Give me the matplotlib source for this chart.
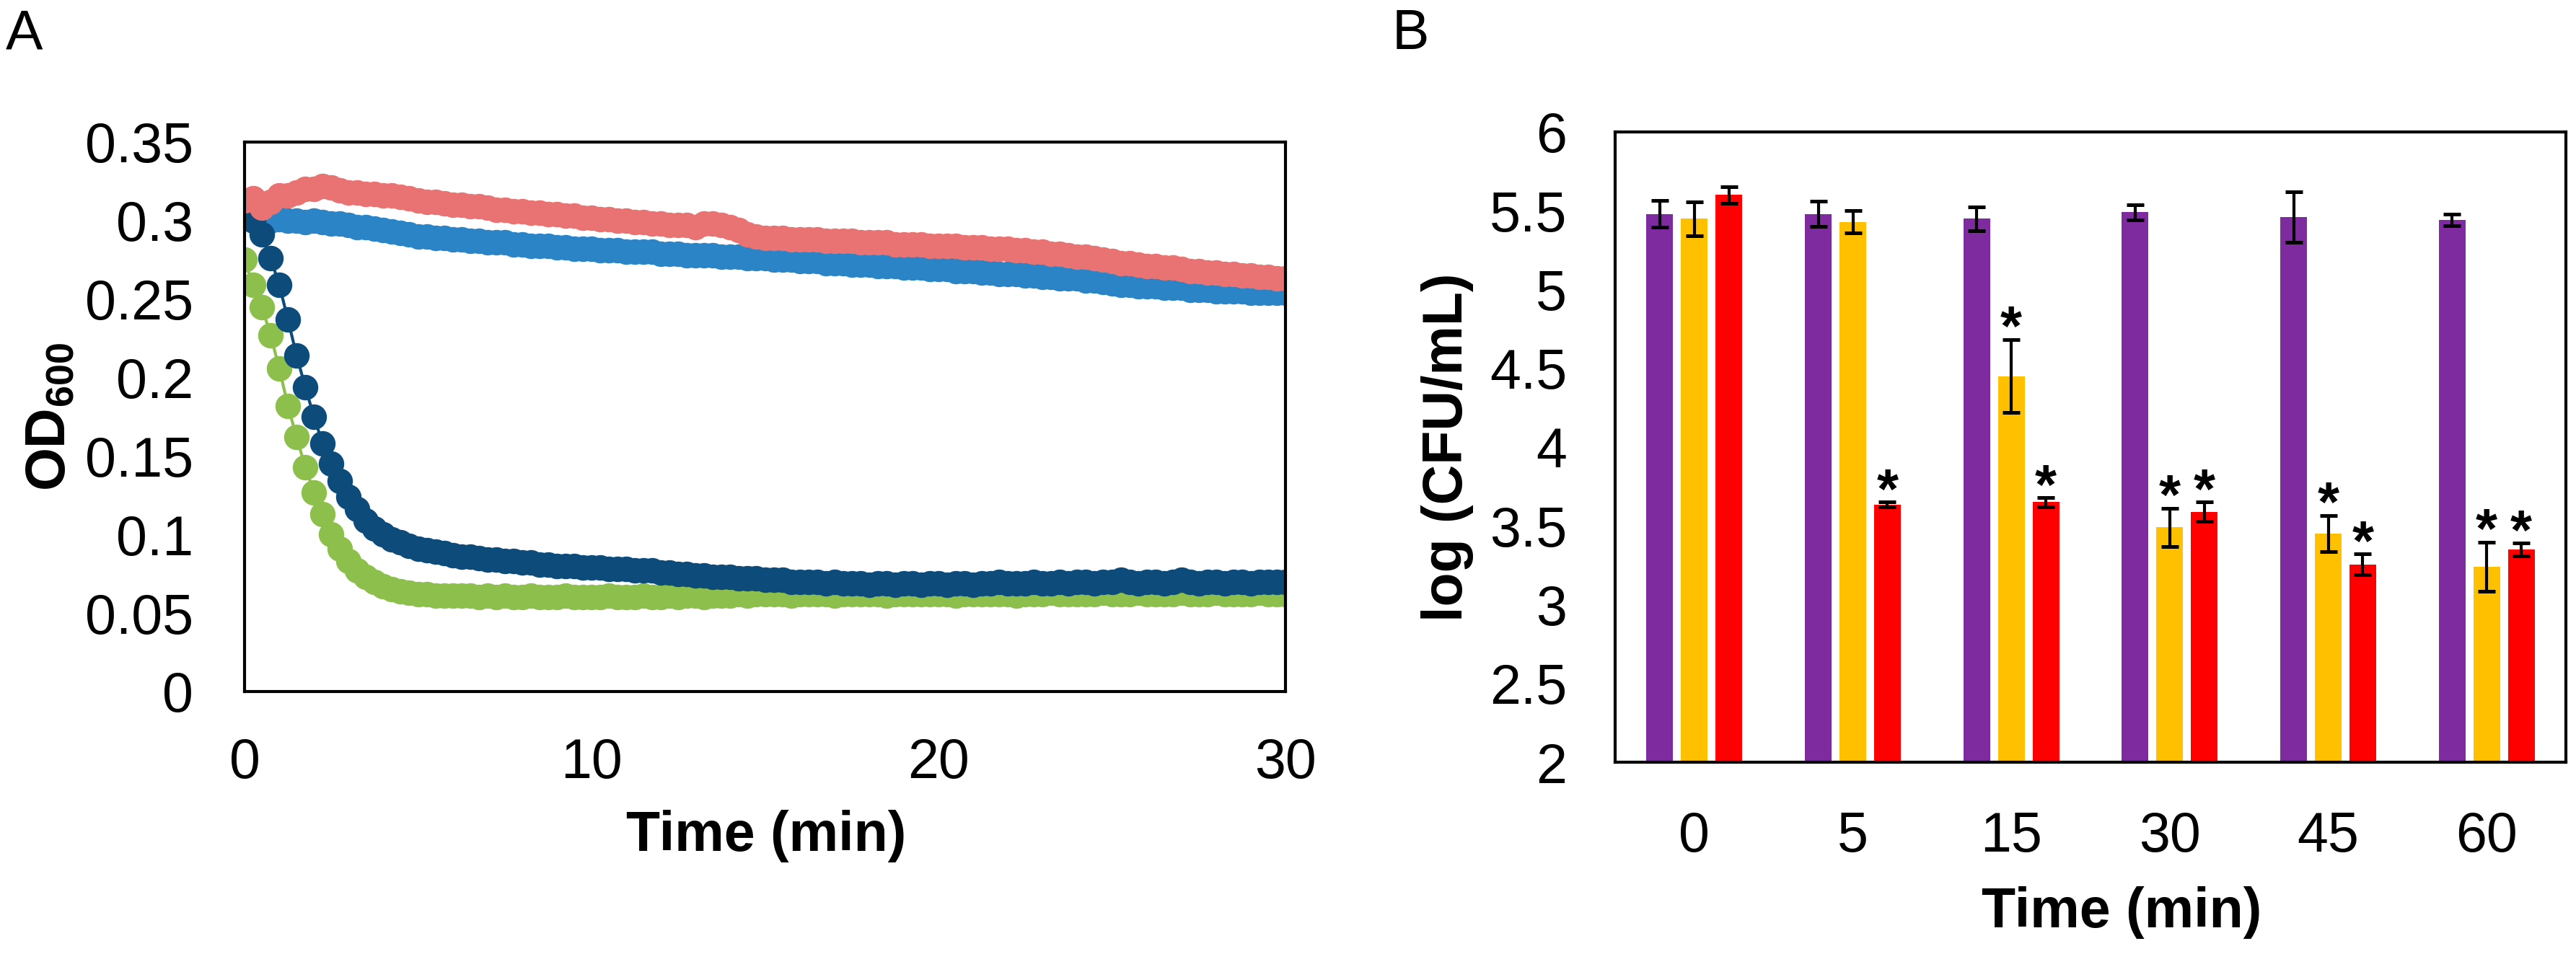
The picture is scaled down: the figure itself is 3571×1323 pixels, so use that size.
import numpy as np
import matplotlib
matplotlib.use("Agg")
import matplotlib.pyplot as plt

plt.rcParams["font.family"] = ["Liberation Sans", "DejaVu Sans"]
plt.rcParams["mathtext.fontset"] = "custom"
plt.rcParams["mathtext.rm"] = "Liberation Sans"
plt.rcParams["mathtext.bf"] = "Liberation Sans:bold"

# ---------- panel A: OD600 over time (one reading every 15 s) ----------
time_min = np.arange(0, 30.001, 0.25)

od_pink = [
    0.313, 0.314, 0.308, 0.312, 0.316, 0.316, 0.318, 0.320, 0.320, 0.322,
    0.321, 0.319, 0.318, 0.318, 0.317, 0.317, 0.316, 0.316, 0.315, 0.314,
    0.313, 0.312, 0.312, 0.311, 0.310, 0.310, 0.309, 0.309, 0.308, 0.307,
    0.307, 0.306, 0.306, 0.305, 0.305, 0.304, 0.304, 0.303, 0.303, 0.302,
    0.302, 0.301, 0.301, 0.300, 0.300, 0.299, 0.299, 0.298, 0.298, 0.297,
    0.297, 0.297, 0.296, 0.298, 0.298, 0.297, 0.296, 0.294, 0.291, 0.290,
    0.289, 0.289, 0.289, 0.288, 0.288, 0.288, 0.288, 0.287, 0.287, 0.287,
    0.287, 0.286, 0.286, 0.286, 0.286, 0.285, 0.285, 0.285, 0.285, 0.284,
    0.284, 0.284, 0.284, 0.283, 0.283, 0.283, 0.282, 0.282, 0.282, 0.281,
    0.281, 0.280, 0.280, 0.279, 0.279, 0.278, 0.277, 0.277, 0.276, 0.275,
    0.274, 0.273, 0.273, 0.272, 0.271, 0.271, 0.270, 0.270, 0.269, 0.268,
    0.268, 0.267, 0.267, 0.266, 0.266, 0.265, 0.265, 0.264, 0.264, 0.263,
    0.263,
]

od_lightblue = [
    0.305, 0.302, 0.300, 0.300, 0.301, 0.300, 0.300, 0.299, 0.300, 0.299,
    0.298, 0.298, 0.297, 0.296, 0.296, 0.295, 0.294, 0.293, 0.292, 0.291,
    0.290, 0.290, 0.289, 0.289, 0.288, 0.288, 0.287, 0.287, 0.286, 0.286,
    0.286, 0.285, 0.285, 0.284, 0.284, 0.284, 0.283, 0.283, 0.282, 0.282,
    0.282, 0.281, 0.281, 0.281, 0.280, 0.280, 0.280, 0.280, 0.279, 0.279,
    0.279, 0.278, 0.278, 0.278, 0.278, 0.277, 0.277, 0.277, 0.276, 0.276,
    0.276, 0.275, 0.275, 0.275, 0.274, 0.274, 0.274, 0.273, 0.273, 0.273,
    0.272, 0.272, 0.272, 0.271, 0.271, 0.271, 0.270, 0.270, 0.270, 0.269,
    0.269, 0.269, 0.268, 0.268, 0.268, 0.267, 0.267, 0.266, 0.266, 0.266,
    0.265, 0.265, 0.264, 0.264, 0.263, 0.263, 0.263, 0.262, 0.262, 0.261,
    0.260, 0.259, 0.259, 0.258, 0.258, 0.258, 0.257, 0.257, 0.257, 0.256,
    0.256, 0.256, 0.255, 0.255, 0.255, 0.255, 0.254, 0.254, 0.254, 0.254,
    0.254,
]

od_darkblue = [
    0.306, 0.300, 0.291, 0.276, 0.259, 0.237, 0.214, 0.194, 0.175, 0.158,
    0.145, 0.134, 0.124, 0.116, 0.109, 0.104, 0.100, 0.097, 0.095, 0.093,
    0.091, 0.090, 0.089, 0.088, 0.087, 0.086, 0.086, 0.085, 0.084, 0.084,
    0.083, 0.083, 0.082, 0.082, 0.081, 0.081, 0.080, 0.080, 0.080, 0.079,
    0.079, 0.079, 0.078, 0.078, 0.078, 0.077, 0.077, 0.077, 0.076, 0.076,
    0.075, 0.075, 0.074, 0.074, 0.073, 0.073, 0.073, 0.072, 0.072, 0.072,
    0.071, 0.071, 0.071, 0.070, 0.070, 0.070, 0.070, 0.069, 0.070, 0.069,
    0.069, 0.069, 0.068, 0.069, 0.069, 0.068, 0.069, 0.069, 0.068, 0.069,
    0.069, 0.068, 0.069, 0.069, 0.068, 0.069, 0.069, 0.070, 0.069, 0.069,
    0.069, 0.070, 0.069, 0.069, 0.070, 0.069, 0.070, 0.070, 0.069, 0.070,
    0.070, 0.071, 0.070, 0.069, 0.070, 0.070, 0.069, 0.070, 0.071, 0.070,
    0.069, 0.070, 0.070, 0.069, 0.070, 0.070, 0.069, 0.070, 0.070, 0.070,
    0.070,
]

od_green = [
    0.275, 0.259, 0.245, 0.227, 0.206, 0.182, 0.162, 0.143, 0.127, 0.113,
    0.100, 0.091, 0.083, 0.077, 0.073, 0.070, 0.067, 0.065, 0.064, 0.063,
    0.062, 0.062, 0.061, 0.061, 0.061, 0.061, 0.061, 0.060, 0.061, 0.060,
    0.061, 0.060, 0.060, 0.061, 0.060, 0.060, 0.060, 0.061, 0.060, 0.060,
    0.060, 0.060, 0.061, 0.060, 0.060, 0.060, 0.061, 0.060, 0.060, 0.061,
    0.060, 0.061, 0.061, 0.060, 0.061, 0.061, 0.061, 0.062, 0.061, 0.062,
    0.062, 0.062, 0.062, 0.061, 0.062, 0.062, 0.062, 0.062, 0.061, 0.062,
    0.062, 0.062, 0.062, 0.062, 0.061, 0.062, 0.062, 0.062, 0.062, 0.062,
    0.062, 0.062, 0.061, 0.062, 0.062, 0.062, 0.062, 0.062, 0.062, 0.061,
    0.062, 0.062, 0.062, 0.063, 0.062, 0.062, 0.062, 0.062, 0.062, 0.063,
    0.062, 0.062, 0.062, 0.063, 0.062, 0.062, 0.062, 0.062, 0.063, 0.062,
    0.062, 0.062, 0.063, 0.062, 0.062, 0.062, 0.062, 0.063, 0.062, 0.062,
    0.062,
]

# ---------- panel B: log CFU/mL ----------
time_labels = ["0", "5", "15", "30", "45", "60"]
cfu_purple = [5.48, 5.48, 5.45, 5.49, 5.46, 5.44]
err_purple = [0.086, 0.080, 0.075, 0.050, 0.160, 0.036]
cfu_yellow = [5.45, 5.43, 4.45, 3.49, 3.45, 3.24]
err_yellow = [0.108, 0.070, 0.232, 0.122, 0.115, 0.156]
cfu_red = [5.60, 3.636, 3.65, 3.59, 3.256, 3.35]
err_red = [0.053, 0.014, 0.028, 0.061, 0.065, 0.040]
star_yellow = [False, False, True, True, True, True]
star_red = [False, True, True, True, True, True]

W, H = 3571, 1323
fig = plt.figure(figsize=(W / 300, H / 300), dpi=300)
fs = 18.5


def box(l, t, r, b):
    return [l / W, 1 - b / H, (r - l) / W, (b - t) / H]


# panel A
axA = fig.add_axes(box(339, 197, 1782, 959))
mk = dict(marker="o", markersize=8.5, linewidth=1.0, markeredgewidth=0)
axA.plot(time_min, od_green, color="#8CBF4C", **mk)
axA.plot(time_min, od_lightblue, color="#2A84C6", **mk)
axA.plot(time_min, od_darkblue, color="#0C4B7A", **mk)
axA.plot(time_min, od_pink, color="#E87372", **mk)
axA.set_xlim(0, 30)
axA.set_ylim(0, 0.35)
axA.set_xticks([0, 10, 20, 30])
axA.set_yticks(np.arange(0, 0.351, 0.05))
axA.set_yticklabels(["0", "0.05", "0.1", "0.15", "0.2", "0.25", "0.3", "0.35"])
axA.tick_params(length=0, labelsize=fs)
axA.tick_params(axis="x", pad=15)
axA.tick_params(axis="y", pad=17)
for sp in axA.spines.values():
    sp.set_linewidth(1.0)
    sp.set_zorder(3)

fig.text(69 / W, 1 - 578 / H, r"$\mathbf{OD}_{\mathbf{600}}$", rotation=90,
         ha="center", va="center", fontsize=fs)
fig.text(1062 / W, 1 - 1160 / H, "Time (min)", ha="center", va="center",
         fontsize=fs, fontweight="bold")
fig.text(8 / W, 1 - 68 / H, "A", ha="left", va="baseline", fontsize=fs)

# panel B
axB = fig.add_axes(box(2239, 183, 3557, 1057))
x = np.arange(len(time_labels))
bw = 0.168
off = 0.218
ekw = dict(elinewidth=1.0, capthick=1.2, ecolor="black")
axB.bar(x - off, cfu_purple, bw, color="#7E2BA0", yerr=err_purple,
        capsize=2.95, error_kw=ekw)
axB.bar(x, cfu_yellow, bw, color="#FFC000", yerr=err_yellow,
        capsize=2.95, error_kw=ekw)
axB.bar(x + off, cfu_red, bw, color="#FF0000", yerr=err_red,
        capsize=2.95, error_kw=ekw)

for i in range(len(x)):
    if star_yellow[i]:
        axB.annotate("*", (x[i], cfu_yellow[i] + err_yellow[i]),
                     xytext=(0, -2), textcoords="offset points",
                     ha="center", va="baseline", fontsize=fs, fontweight="bold")
    if star_red[i]:
        axB.annotate("*", (x[i] + off, cfu_red[i] + err_red[i]),
                     xytext=(0, -2), textcoords="offset points",
                     ha="center", va="baseline", fontsize=fs, fontweight="bold")

axB.set_xlim(-0.5, 5.5)
axB.set_ylim(2, 6)
axB.set_xticks(x)
axB.set_xticklabels(time_labels)
axB.set_yticks(np.arange(2, 6.01, 0.5))
axB.set_yticklabels(["2", "2.5", "3", "3.5", "4", "4.5", "5", "5.5", "6"])
axB.tick_params(length=0, labelsize=fs)
axB.tick_params(axis="x", pad=16)
axB.tick_params(axis="y", pad=16)
for sp in axB.spines.values():
    sp.set_linewidth(1.0)

fig.text(2006 / W, 1 - 620 / H, "log (CFU/mL)", rotation=90,
         ha="center", va="center", fontsize=fs, fontweight="bold")
fig.text(2941 / W, 1 - 1266 / H, "Time (min)", ha="center", va="center",
         fontsize=fs, fontweight="bold")
fig.text(1930 / W, 1 - 68 / H, "B", ha="left", va="baseline", fontsize=fs)

fig.savefig("out.png", dpi=300)
